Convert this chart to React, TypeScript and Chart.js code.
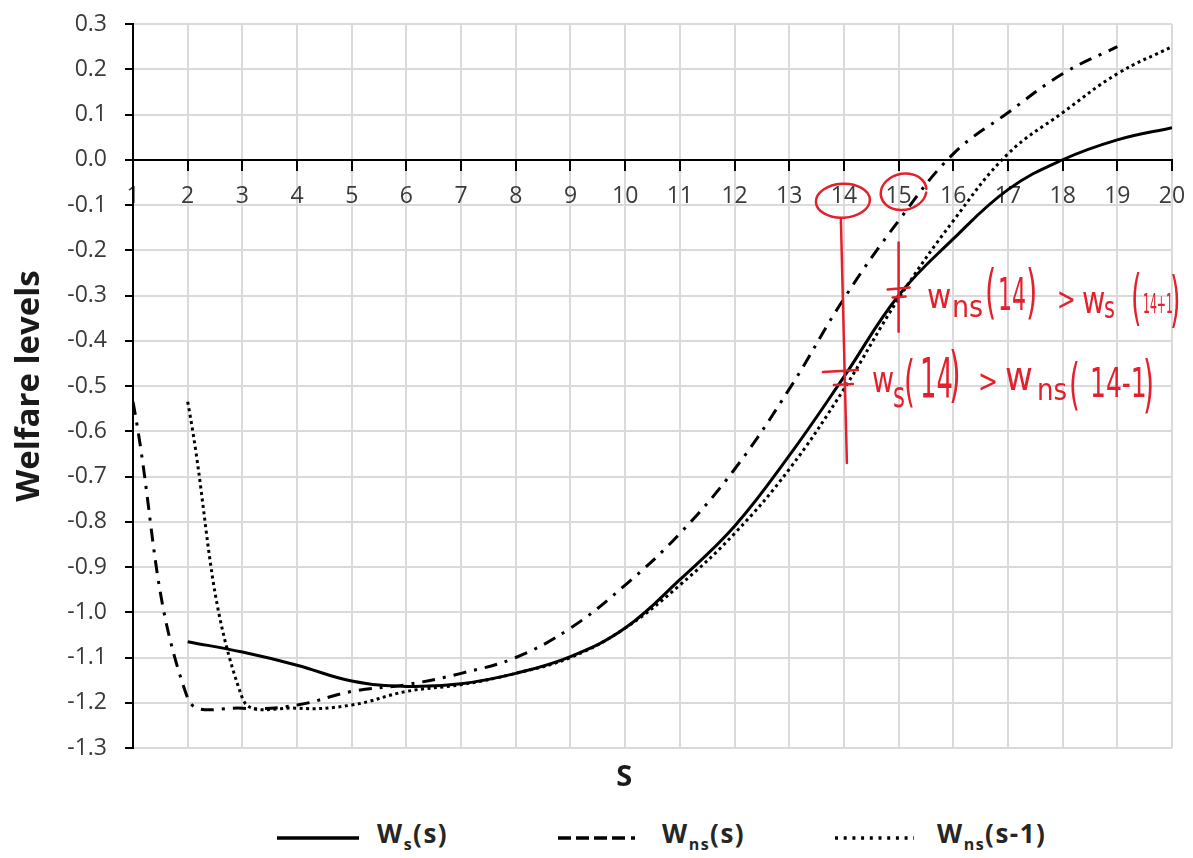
import React, { useEffect, useRef } from "react";
import { Chart, registerables } from "chart.js";

Chart.register(...registerables);

// ---- data ----
const wsS = [2, 3, 4, 5, 6, 7, 8, 9, 10, 11, 12, 13, 14, 15, 16, 17, 18, 19, 20];
const wsValues = [-1.065, -1.088, -1.117, -1.152, -1.164, -1.158, -1.135, -1.098, -1.035, -0.928, -0.81, -0.654, -0.48, -0.3, -0.175, -0.066, 0.0, 0.044, 0.071];

const wnsS = [1, 2, 3, 4, 5, 6, 7, 8, 9, 10, 11, 12, 13, 14, 15, 16, 17, 18, 19];
const wnsValues = [-0.535, -1.19, -1.212, -1.205, -1.175, -1.16, -1.135, -1.1, -1.035, -0.94, -0.826, -0.684, -0.507, -0.307, -0.135, 0.013, 0.104, 0.19, 0.25];

const wnsLagS = [2, 3, 4, 5, 6, 7, 8, 9, 10, 11, 12, 13, 14, 15, 16, 17, 18, 19, 20];
const wnsLagValues = [-0.535, -1.19, -1.212, -1.205, -1.175, -1.16, -1.135, -1.1, -1.035, -0.94, -0.826, -0.684, -0.507, -0.307, -0.135, 0.013, 0.104, 0.19, 0.25];

const sMin = 1;
const sMax = 20;
const yMin = -1.3;
const yMax = 0.3;
const yStep = 0.1;

const seriesNames = ["Ws(s)", "Wns(s)", "Wns(s-1)"];
const xTitle = "S";
const yTitle = "Welfare levels";

const FONT = '"Open Sans", "DejaVu Sans", sans-serif';
const HAND = '"DejaVu Sans", sans-serif';
const RED = "#e3202c";

const toPoints = (xs: number[], ys: number[]) => xs.map((x, i) => ({ x, y: ys[i] }));

// annotation runs: [text, dx, dy, size, sx]
type Run = [string, number, number, number, number];
const line1Runs: Run[] = [
  ["w", 28.4, 12.25, 33, 0.9],
  ["ns", 53.4, 21.25, 30, 0.9],
  ["(", 86.4, 16.25, 58, 0.5],
  ["14", 99.4, 14.25, 44, 0.5],
  [")", 127.4, 16.25, 58, 0.5],
  [">", 158.4, 14.25, 32, 0.7],
  ["w", 183.4, 17.25, 38, 0.75],
  ["s", 205.4, 22.25, 30, 0.7],
  ["(", 232.4, 22.25, 60, 0.45],
  ["14+1", 244.4, 17.25, 26, 0.42],
  [")", 271.4, 24.25, 60, 0.45],
];
const line2Runs: Run[] = [
  ["w", 28.1, 5.75, 36, 0.75],
  ["s", 49.1, 20.75, 36, 0.64],
  ["(", 60, 13.75, 56, 0.5],
  ["14", 76.1, 10.75, 55, 0.47],
  [")", 105, 8.75, 60, 0.5],
  [">", 134.1, 5.75, 32, 0.75],
  ["w", 161.1, 3.75, 40, 0.85],
  ["ns", 193.1, 13.75, 30, 0.87],
  ["(", 225, 16.75, 56, 0.5],
  ["14-1", 246.1, 10.75, 41, 0.61],
  [")", 299, 18.75, 63, 0.45],
];

const annotationPlugin = {
  id: "handAnnotations",
  afterDraw(chart: any) {
    const { ctx, scales } = chart;
    const x = scales.x;
    const y = scales.y;
    ctx.save();

    // x axis title
    ctx.fillStyle = "#1a1a1a";
    ctx.font = `bold 29px ${FONT}`;
    ctx.textAlign = "center";
    ctx.textBaseline = "middle";
    ctx.fillText(xTitle, x.getPixelForValue(10) - 1, chart.chartArea.bottom + 30);

    // red hand annotations
    ctx.strokeStyle = RED;
    ctx.fillStyle = RED;
    ctx.lineWidth = 2.5;
    ctx.lineCap = "round";
    const x14 = x.getPixelForValue(14);
    const x15 = x.getPixelForValue(15);
    const y0 = y.getPixelForValue(0);

    ctx.beginPath();
    ctx.ellipse(x14 - 1, y0 + 41, 27, 17, -0.05, 0, Math.PI * 2);
    ctx.stroke();
    ctx.beginPath();
    ctx.ellipse(x15 + 5, y0 + 32, 23, 18, -0.2, 0.3, Math.PI * 2 + 0.1);
    ctx.stroke();

    ctx.beginPath();
    ctx.moveTo(x14 - 3, y.getPixelForValue(-0.132));
    ctx.lineTo(x14 + 3, y.getPixelForValue(-0.67));
    ctx.moveTo(x15, y.getPixelForValue(-0.183));
    ctx.lineTo(x15, y.getPixelForValue(-0.38));
    // small cross strokes
    const yA = y.getPixelForValue(-0.3);
    ctx.moveTo(x15 - 11, yA - 6);
    ctx.lineTo(x15 + 11, yA - 8);
    ctx.moveTo(x15 - 6, yA + 2);
    ctx.lineTo(x15 + 7, yA + 1);
    const yB = y.getPixelForValue(-0.5);
    ctx.moveTo(x14 - 21, yB - 14);
    ctx.lineTo(x14 + 14, yB - 16);
    ctx.moveTo(x14 - 10, yB - 1);
    ctx.lineTo(x14 + 9, yB - 2);
    ctx.stroke();

    const drawRuns = (runs: Run[], ax: number, ay: number) => {
      ctx.textAlign = "left";
      ctx.textBaseline = "alphabetic";
      for (const [t, dx, dy, size, sx] of runs) {
        ctx.save();
        ctx.translate(ax + dx, ay + dy);
        ctx.scale(sx, 1);
        ctx.font = `${size}px ${HAND}`;
        ctx.fillText(t, 0, 0);
        ctx.restore();
      }
    };
    drawRuns(line1Runs, x15, yA);
    drawRuns(line2Runs, x14, yB);

    ctx.restore();
  },
};

function LegendLine({ left, width, dash }: { left: number; width: number; dash?: string }) {
  return (
    <svg
      width={width}
      height={10}
      style={{ position: "absolute", left, top: 825 }}
    >
      <line x1={0} y1={5} x2={width} y2={5} stroke="#000" strokeWidth={3.5} strokeDasharray={dash} />
    </svg>
  );
}

function LegendText({ left, main, sub, rest }: { left: number; main: string; sub: string; rest: string }) {
  return (
    <div
      style={{
        position: "absolute",
        left,
        top: 810,
        fontFamily: FONT,
        fontWeight: 700,
        fontSize: 26,
        lineHeight: "30px",
        color: "#262626",
        letterSpacing: 1.5,
        whiteSpace: "nowrap",
      }}
    >
      {main}
      <span style={{ fontSize: 16, position: "relative", top: 7 }}>{sub}</span>
      {rest}
    </div>
  );
}

export default function App() {
  const ref = useRef<HTMLCanvasElement>(null);

  useEffect(() => {
    if (!ref.current) return;
    const tickFont = { family: FONT, size: 23 };
    const chart = new Chart(ref.current, {
      type: "line",
      data: {
        datasets: [
          {
            label: seriesNames[0],
            data: toPoints(wsS, wsValues),
            borderColor: "#000",
            borderWidth: 3,
            pointRadius: 0,
            tension: 0.4,
            fill: false,
          },
          {
            label: seriesNames[1],
            data: toPoints(wnsS, wnsValues),
            borderColor: "#000",
            borderWidth: 3,
            borderDash: [13, 8, 3, 8],
            pointRadius: 0,
            tension: 0.4,
            fill: false,
          },
          {
            label: seriesNames[2],
            data: toPoints(wnsLagS, wnsLagValues),
            borderColor: "#000",
            borderWidth: 3,
            borderDash: [3, 3.5],
            pointRadius: 0,
            tension: 0.4,
            fill: false,
          },
        ],
      },
      options: {
        animation: false,
        responsive: true,
        maintainAspectRatio: false,
        layout: { padding: { left: 0, right: 0, top: 0, bottom: 60 } },
        plugins: {
          legend: { display: false },
          tooltip: { enabled: false },
          title: { display: false },
        },
        scales: {
          x: {
            type: "linear",
            min: sMin,
            max: sMax,
            position: { y: 0 } as any,
            afterFit: (s: any) => {
              s.paddingLeft = 0;
              s.paddingRight = 13;
            },
            ticks: {
              stepSize: 1,
              color: "#3a3a3a",
              font: tickFont,
              padding: 13,
              maxRotation: 0,
              autoSkip: false,
              callback: (v: any) => String(v),
            },
            grid: { color: "#dadada", lineWidth: 2, tickColor: "#000", tickLength: 10, tickWidth: 2 },
            border: { color: "#000", width: 2 },
          },
          y: {
            type: "linear",
            min: yMin,
            max: yMax,
            position: "left",
            afterFit: (s: any) => {
              s.width = 125;
              s.paddingTop = 16;
              s.paddingBottom = 0;
            },
            ticks: {
              stepSize: yStep,
              color: "#3a3a3a",
              font: tickFont,
              padding: 18,
              callback: (v: any) => {
                const n = Number(v);
                return (Math.abs(n) < 1e-9 ? 0 : n).toFixed(1);
              },
            },
            grid: { color: "#dadada", lineWidth: 2, tickColor: "#000", tickLength: 8, tickWidth: 2 },
            border: { color: "#000", width: 2 },
            title: {
              display: true,
              text: yTitle,
              color: "#1a1a1a",
              font: { family: FONT, size: 33, weight: "bold" },
              padding: { top: 2, bottom: 0 },
            },
          },
        },
      },
      plugins: [annotationPlugin],
    } as any);
    return () => chart.destroy();
  }, []);

  return (
    <div style={{ position: "relative", width: 1177, height: 842, fontFamily: FONT }}>
      <div style={{ position: "absolute", left: 0, top: 0, width: 1177, height: 800 }}>
        <canvas ref={ref} />
      </div>
      <LegendLine left={269} width={82} />
      <LegendText left={369} main="W" sub="s" rest="(s)" />
      <LegendLine left={550} width={83} dash="13 5 13 5 13 5 13 6 4 100" />
      <LegendText left={654} main="W" sub="ns" rest="(s)" />
      <LegendLine left={827} width={79} dash="3 5.7" />
      <LegendText left={929} main="W" sub="ns" rest="(s-1)" />
    </div>
  );
}
